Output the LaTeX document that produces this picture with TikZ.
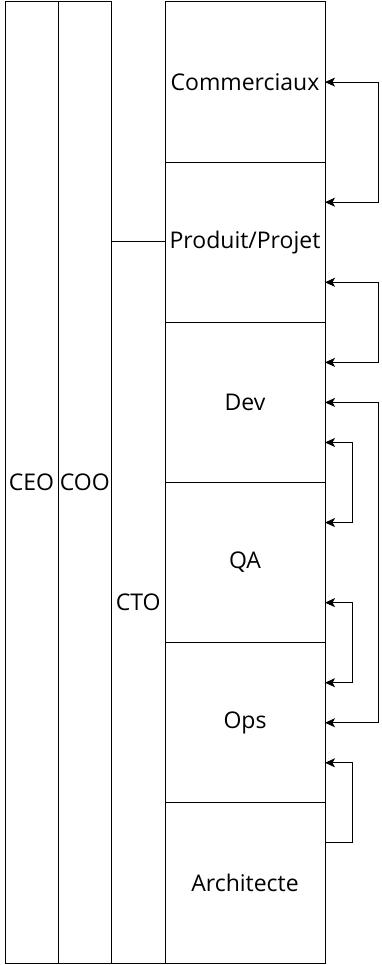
\documentclass[tikz,border=0pt]{standalone}
\usepackage{fontspec}
\setmainfont{Open Sans}
\usetikzlibrary{arrows.meta,calc}
\newcommand{\lblfont}{\fontsize{23pt}{27pt}\selectfont}
\begin{document}
\begin{tikzpicture}[x=1pt,y=-1pt,
  >={Stealth[length=10pt,width=9pt,inset=2.5pt]},
  frame/.style={draw=black,line width=1pt,inner sep=0pt,outer sep=0pt,font=\lblfont,text=black},
  box/.style={frame,minimum width=160pt,minimum height=160.17pt},
  link/.style={draw=black,line width=1pt}]
\useasboundingbox (0,0) rectangle (381,965);
% columns
\node[frame,minimum width=53pt,minimum height=961pt] (ceo) at (31.5,482.5) {CEO};
\node[frame,minimum width=53.5pt,minimum height=961pt] (coo) at (84.75,482.5) {COO};
\node[frame,minimum width=53.5pt,minimum height=721pt] (cto) at (138.25,602.5) {CTO};
% boxes
\node[box] (comm) at (245,82.08) {Commerciaux};
\node[box] (prod) at (245,242.25) {Produit/Projet};
\node[box] (dev) at (245,402.42) {Dev};
\node[box] (qa) at (245,562.58) {QA};
\node[box] (ops) at (245,722.75) {Ops};
\node[box] (arch) at (245,882.92) {Architecte};
% connectors
\draw[link,<->] (comm.east) -- ++(53,0) |- ($(prod.north east)!0.25!(prod.south east)$);
\draw[link,<->] ($(prod.north east)!0.75!(prod.south east)$) -- ++(53,0) |- ($(dev.north east)!0.25!(dev.south east)$);
\draw[link,<->] (dev.east) -- ++(53,0) |- (ops.east);
\draw[link,<->] ($(dev.north east)!0.75!(dev.south east)$) -- ++(27,0) |- ($(qa.north east)!0.25!(qa.south east)$);
\draw[link,<->] ($(qa.north east)!0.75!(qa.south east)$) -- ++(27,0) |- ($(ops.north east)!0.25!(ops.south east)$);
\draw[link,->] ($(arch.north east)!0.25!(arch.south east)$) -- ++(27,0) |- ($(ops.north east)!0.75!(ops.south east)$);
\end{tikzpicture}
\end{document}
